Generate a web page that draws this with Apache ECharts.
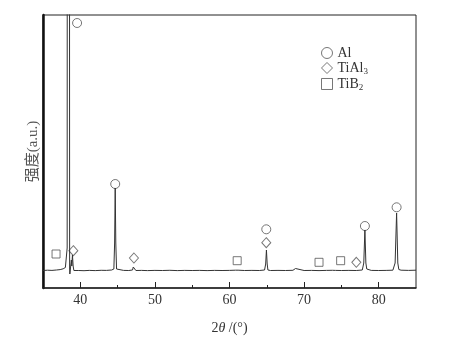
<!DOCTYPE html>
<html>
<head>
<meta charset="utf-8">
<script src="https://cdn.jsdelivr.net/npm/echarts@6/dist/echarts.min.js"></script>
<style>
  html, body { margin: 0; padding: 0; background: #fff; }
  #chart { width: 467px; height: 342px; }
</style>
</head>
<body>
<div id="chart"></div>
<script>
// XRD pattern, [2theta, intensity (a.u.)]
var pattern = [
  [35.0, 17.5], [35.6, 17.8], [36.2, 17.6], [36.8, 18.0], [37.3, 18.4], [37.7, 19.2], [38.0, 20.5],
  [38.18, 22.5], [38.24, 40], [38.26, 600], [38.54, 600], [38.57, 20], [38.6, 14], [38.7, 15],
  [38.8, 28], [38.86, 22], [38.95, 33], [39.04, 22], [39.14, 17.5], [39.3, 17.2], [39.8, 17.5],
  [40.5, 17.3], [41.2, 17.6], [42, 17.4], [42.8, 17.7], [43.5, 17.6], [44.2, 18], [44.5, 19],
  [44.6, 45], [44.68, 100], [44.76, 45], [44.86, 19], [45.1, 17.5], [45.8, 17.6], [46.5, 17.5],
  [47.0, 18], [47.1, 21], [47.2, 22], [47.3, 19], [47.45, 17.5], [48.2, 17.6], [49, 17.4],
  [50, 17.6], [51, 17.5], [52, 17.7], [53, 17.4], [54, 17.6], [55, 17.5], [56, 17.6], [57, 17.4],
  [58, 17.6], [59, 17.5], [60, 17.6], [60.8, 17.8], [61.0, 19.3], [61.15, 17.8], [62, 17.5],
  [63, 17.6], [64, 17.5], [64.7, 18], [64.85, 24], [64.95, 38], [65.05, 24], [65.15, 18],
  [65.5, 17.5], [66.5, 17.6], [67.5, 17.5], [68.5, 17.7], [68.75, 17.6], [68.85, 19.5],
  [68.95, 17.6], [70, 17.5], [71, 17.6], [72, 17.4], [73, 17.6], [73.8, 17.7], [74, 18.5],
  [74.2, 17.6], [75, 17.5], [76, 17.6], [77, 17.5], [77.8, 18], [78.0, 25], [78.15, 58],
  [78.28, 25], [78.4, 19], [78.5, 19.5], [78.65, 17.8], [79, 17.6], [80, 17.5], [81, 17.6],
  [81.9, 17.8], [82.2, 25], [82.4, 75], [82.56, 25], [82.7, 18.5], [82.85, 19.2], [83.0, 17.8],
  [84, 17.6], [85, 17.8]
];

// phase markers
var alMarks = [[39.57, 265], [44.68, 104], [64.93, 58.7], [78.15, 62], [82.4, 80.7]];
var tial3Marks = [[39.07, 37.3], [47.19, 30], [64.93, 45.3], [77.0, 25.7]];
var tib2Marks = [[36.75, 34], [61.03, 27.3], [72.0, 25.7], [74.9, 27.3]];

var majorTicks = [40, 50, 60, 70, 80];
var minorTicks = [45, 55, 65, 75];

var serif = '"Liberation Serif", "Noto Sans CJK SC", serif';
var markStyle = { color: 'rgba(255,255,255,0)', borderColor: '#555', borderWidth: 1 };

var chart = echarts.init(document.getElementById('chart'));
chart.setOption({
  backgroundColor: '#fff',
  animation: false,
  grid: {
    left: 43, top: 15, width: 373, height: 273,
    show: true, borderColor: '#222', borderWidth: 1, backgroundColor: 'transparent'
  },
  legend: {
    orient: 'vertical',
    left: 316, top: 41,
    itemWidth: 11, itemHeight: 11, itemGap: 1,
    textStyle: {
      fontFamily: serif, fontSize: 14, color: '#333',
      rich: { s: { fontFamily: serif, fontSize: 9, color: '#333', padding: [7, 0, 0, 0] } }
    },
    formatter: function (name) {
      if (name === 'TiAl3') return 'TiAl{s|3}';
      if (name === 'TiB2') return 'TiB{s|2}';
      return name;
    },
    data: [
      { name: 'Al', icon: 'circle', itemStyle: markStyle },
      { name: 'TiAl3', icon: 'diamond', itemStyle: markStyle },
      { name: 'TiB2', icon: 'rect', itemStyle: markStyle }
    ]
  },
  xAxis: [{
    type: 'value', min: 35, max: 85,
    name: '2{i|θ} /(°)', nameLocation: 'middle', nameGap: 33,
    nameTextStyle: {
      fontFamily: serif, fontSize: 14, color: '#333',
      rich: { i: { fontFamily: serif, fontStyle: 'italic', fontSize: 14, color: '#333' } }
    },
    axisLine: { lineStyle: { color: '#222', width: 1.5 } },
    axisTick: { inside: true, length: 6, customValues: majorTicks, lineStyle: { color: '#222' } },
    axisLabel: { customValues: majorTicks, fontFamily: serif, fontSize: 14, color: '#333', margin: 5 },
    splitLine: { show: false }
  }, {
    type: 'value', min: 35, max: 85, position: 'bottom',
    axisLine: { show: false },
    axisTick: { inside: true, length: 3, customValues: minorTicks, lineStyle: { color: '#222' } },
    axisLabel: { show: false },
    splitLine: { show: false }
  }],
  yAxis: {
    type: 'value', min: 0, max: 273,
    name: '强度(a.u.)', nameLocation: 'middle', nameGap: 2,
    nameTextStyle: { fontFamily: serif, fontSize: 15, color: '#555' },
    axisLine: { show: true, lineStyle: { color: '#111', width: 2.5 } },
    axisTick: { show: false },
    axisLabel: { show: false },
    splitLine: { show: false }
  },
  series: [{
    type: 'line', data: pattern, showSymbol: false, symbol: 'none', clip: true,
    lineStyle: { color: '#333', width: 1 }, silent: true
  }, {
    name: 'Al', type: 'scatter', data: alMarks, symbol: 'circle', symbolSize: 9, itemStyle: markStyle
  }, {
    name: 'TiAl3', type: 'scatter', data: tial3Marks, symbol: 'diamond', symbolSize: [9, 10], itemStyle: markStyle
  }, {
    name: 'TiB2', type: 'scatter', data: tib2Marks, symbol: 'rect', symbolSize: 8, itemStyle: markStyle
  }]
});
</script>
</body>
</html>
